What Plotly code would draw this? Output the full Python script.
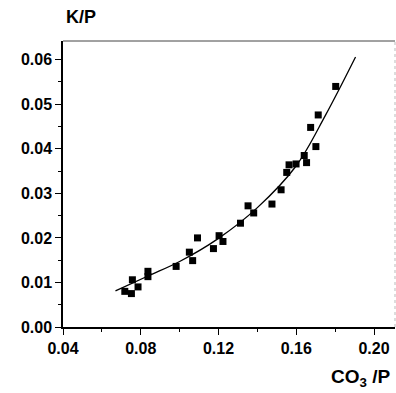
import plotly.graph_objects as go

# measured points
co3_p = [0.0718, 0.0752, 0.0757, 0.0786, 0.0837, 0.0837, 0.0982, 0.1050, 0.1067, 0.1092,
         0.1174, 0.1203, 0.1223, 0.1313, 0.1352, 0.1381, 0.1475, 0.1522, 0.1551, 0.1563,
         0.1599, 0.1641, 0.1653, 0.1674, 0.1701, 0.1713, 0.1803]
k_p = [0.0080, 0.0075, 0.0106, 0.0090, 0.0125, 0.0113, 0.0136, 0.0168, 0.0149, 0.0200,
       0.0176, 0.0205, 0.0192, 0.0233, 0.0272, 0.0256, 0.0276, 0.0308, 0.0347, 0.0364,
       0.0366, 0.0385, 0.0369, 0.0448, 0.0405, 0.0476, 0.0540]

# fitted curve
curve_x = [0.067, 0.084, 0.100, 0.120, 0.140, 0.160, 0.175, 0.1905]
curve_y = [0.0081, 0.0115, 0.0147, 0.0199, 0.0268, 0.0362, 0.0475, 0.0606]

x_ticks = [0.04, 0.08, 0.12, 0.16, 0.20]
y_ticks = [0.00, 0.01, 0.02, 0.03, 0.04, 0.05, 0.06]

FAM = "Liberation Sans, Arial, sans-serif"
tickfont = dict(family=FAM, size=16, color="black", weight="bold")

fig = go.Figure()
fig.add_trace(go.Scatter(x=curve_x, y=curve_y, mode="lines",
                         line=dict(color="black", width=1.3, shape="spline", smoothing=1.0),
                         hoverinfo="skip", showlegend=False))
fig.add_trace(go.Scatter(x=co3_p, y=k_p, mode="markers",
                         marker=dict(symbol="square", size=7, color="black"),
                         showlegend=False))

fig.update_layout(
    width=396, height=393,
    margin=dict(l=63, r=1, t=41, b=66),
    paper_bgcolor="white", plot_bgcolor="white",
    font=dict(family=FAM, size=16, color="black"),
    xaxis=dict(range=[0.04, 0.2108], tickvals=x_ticks, tickformat=".2f",
               showgrid=False, zeroline=False, showline=True, linecolor="black", linewidth=1.5,
               ticks="outside", ticklen=6, tickwidth=1.3, tickcolor="black",
               minor=dict(tickvals=[0.06, 0.10, 0.14, 0.18], ticks="outside", ticklen=3,
                          tickwidth=1, tickcolor="black"),
               tickfont=tickfont),
    yaxis=dict(range=[0.0, 0.0642], tickvals=y_ticks, tickformat=".2f",
               showgrid=False, zeroline=False, showline=True, linecolor="black", linewidth=1.5,
               ticks="outside", ticklen=6, tickwidth=1.3, tickcolor="black",
               minor=dict(tickvals=[0.005, 0.015, 0.025, 0.035, 0.045, 0.055], ticks="outside",
                          ticklen=3, tickwidth=1, tickcolor="black"),
               tickfont=tickfont),
    shapes=[
        dict(type="line", xref="paper", yref="paper", x0=0, x1=1, y0=1, y1=1,
             line=dict(color="#444444", width=1)),
        dict(type="line", xref="paper", yref="paper", x0=1, x1=1, y0=0, y1=1,
             line=dict(color="#bbbbbb", width=1, dash="dot")),
    ],
    annotations=[
        dict(text="K/P", xref="paper", yref="paper", x=0, y=1, xanchor="left",
             yanchor="bottom", yshift=12, xshift=1, showarrow=False,
             font=dict(family=FAM, size=18, color="black", weight="bold")),
        dict(text="CO<sub>3</sub> /P", xref="paper", yref="paper", x=1, y=0,
             xanchor="right", yanchor="top", yshift=-37, xshift=-3, showarrow=False,
             font=dict(family=FAM, size=19, color="black", weight="bold")),
    ],
)

fig.write_html("out.html")
